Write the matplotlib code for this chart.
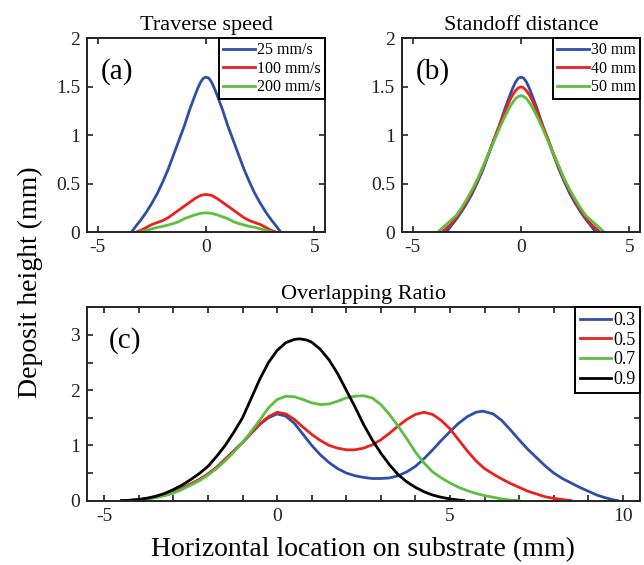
import numpy as np
import matplotlib.pyplot as plt
from matplotlib.ticker import MultipleLocator

plt.rcParams["font.family"] = ["Liberation Serif", "DejaVu Serif"]
plt.rcParams["axes.unicode_minus"] = False

BLUE = "#2f4ea6"
RED = "#e8221f"
GREEN = "#5cbf3f"
BLACK = "#000000"

# (a) traverse speed
x_25 = [-3.45, -3.25, -3.0, -2.75, -2.5, -2.25, -2.0, -1.75, -1.5, -1.25, -1.0, -0.75, -0.5, -0.375, -0.25, -0.125, 0.0,
        0.125, 0.25, 0.375, 0.5, 0.75, 1.0, 1.25, 1.5, 1.75, 2.0, 2.25, 2.5, 2.75, 3.0, 3.25, 3.45]
y_25 = [0.0, 0.06, 0.13, 0.21, 0.3, 0.4, 0.52, 0.65, 0.8, 0.95, 1.1, 1.27, 1.42, 1.49, 1.55, 1.59, 1.6,
        1.59, 1.55, 1.49, 1.42, 1.27, 1.1, 0.95, 0.8, 0.65, 0.52, 0.4, 0.3, 0.21, 0.13, 0.06, 0.0]
x_100 = [-3.25, -3.0, -2.75, -2.5, -2.25, -2.0, -1.75, -1.5, -1.25, -1.0, -0.75, -0.5, -0.25, 0.0,
         0.25, 0.5, 0.75, 1.0, 1.25, 1.5, 1.75, 2.0, 2.25, 2.5, 2.75, 3.0, 3.25]
y_100 = [0.0, 0.02, 0.05, 0.08, 0.1, 0.12, 0.15, 0.19, 0.23, 0.27, 0.31, 0.35, 0.38, 0.39,
         0.38, 0.35, 0.31, 0.27, 0.23, 0.19, 0.15, 0.12, 0.1, 0.08, 0.05, 0.02, 0.0]
x_200 = [-3.1, -2.75, -2.5, -2.25, -2.0, -1.75, -1.5, -1.25, -1.0, -0.75, -0.5, -0.25, 0.0,
         0.25, 0.5, 0.75, 1.0, 1.25, 1.5, 1.75, 2.0, 2.25, 2.5, 2.75, 3.1]
y_200 = [0.0, 0.02, 0.035, 0.05, 0.06, 0.075, 0.09, 0.11, 0.14, 0.16, 0.18, 0.195, 0.2,
         0.195, 0.18, 0.16, 0.14, 0.11, 0.09, 0.075, 0.06, 0.05, 0.035, 0.02, 0.0]

# (b) standoff distance
x_30 = x_25
y_30 = y_25
x_40 = [-3.65, -3.5, -3.25, -3.0, -2.75, -2.5, -2.25, -2.0, -1.75, -1.5, -1.25, -1.0, -0.75, -0.5, -0.375, -0.25, -0.125, 0.0,
        0.125, 0.25, 0.375, 0.5, 0.75, 1.0, 1.25, 1.5, 1.75, 2.0, 2.25, 2.5, 2.75, 3.0, 3.25, 3.5, 3.65]
y_40 = [0.0, 0.03, 0.08, 0.15, 0.23, 0.32, 0.42, 0.54, 0.67, 0.81, 0.96, 1.1, 1.24, 1.37, 1.42, 1.46, 1.49, 1.5,
        1.49, 1.46, 1.42, 1.37, 1.24, 1.1, 0.96, 0.81, 0.67, 0.54, 0.42, 0.32, 0.23, 0.15, 0.08, 0.03, 0.0]
x_50 = [-3.85, -3.6, -3.3, -3.0, -2.75, -2.5, -2.25, -2.0, -1.75, -1.5, -1.25, -1.0, -0.75, -0.5, -0.375, -0.25, -0.125, 0.0,
        0.125, 0.25, 0.375, 0.5, 0.75, 1.0, 1.25, 1.5, 1.75, 2.0, 2.25, 2.5, 2.75, 3.0, 3.3, 3.6, 3.85]
y_50 = [0.0, 0.05, 0.11, 0.17, 0.25, 0.34, 0.44, 0.55, 0.68, 0.81, 0.94, 1.07, 1.19, 1.3, 1.34, 1.38, 1.4, 1.41,
        1.4, 1.38, 1.34, 1.3, 1.19, 1.07, 0.94, 0.81, 0.68, 0.55, 0.44, 0.34, 0.25, 0.17, 0.11, 0.05, 0.0]

# (c) overlapping ratio
x_c3 = [-4.5, -4.25, -4.0, -3.75, -3.5, -3.25, -3.0, -2.75, -2.5, -2.25, -2.0, -1.75, -1.5, -1.25, -1.0,
        -0.75, -0.5, -0.25, 0.0, 0.25, 0.5, 0.75, 1.0, 1.25, 1.5, 1.75, 2.0, 2.25, 2.5, 2.75, 3.0, 3.25,
        3.5, 3.75, 4.0, 4.25, 4.5, 4.75, 5.0, 5.25, 5.5, 5.75, 5.95, 6.25, 6.5, 6.75, 7.0, 7.25, 7.5, 7.75,
        8.0, 8.25, 8.5, 8.75, 9.0, 9.25, 9.5, 9.75, 9.85]
y_c3 = [0.0, 0.005, 0.015, 0.035, 0.065, 0.1, 0.15, 0.22, 0.3, 0.38, 0.48, 0.6, 0.75, 0.9, 1.05,
        1.22, 1.38, 1.5, 1.57, 1.53, 1.4, 1.2, 1.0, 0.83, 0.69, 0.58, 0.5, 0.45, 0.42, 0.4, 0.4, 0.41,
        0.45, 0.52, 0.62, 0.76, 0.92, 1.09, 1.25, 1.4, 1.52, 1.6, 1.62, 1.57, 1.45, 1.28, 1.1, 0.93, 0.78, 0.63,
        0.5, 0.4, 0.32, 0.24, 0.17, 0.1, 0.05, 0.01, 0.0]
x_c5 = [-4.5, -4.25, -4.0, -3.75, -3.5, -3.25, -3.0, -2.75, -2.5, -2.25, -2.0, -1.75, -1.5, -1.25, -1.0,
        -0.75, -0.5, -0.25, 0.0, 0.25, 0.5, 0.75, 1.0, 1.25, 1.5, 1.75, 2.0, 2.25, 2.5, 2.75, 3.0, 3.25,
        3.5, 3.75, 4.0, 4.25, 4.5, 4.75, 5.0, 5.25, 5.5, 5.75, 6.0, 6.25, 6.5, 6.75, 7.0, 7.25, 7.5, 7.75,
        8.0, 8.25, 8.5]
y_c5 = [0.0, 0.005, 0.015, 0.035, 0.065, 0.1, 0.15, 0.22, 0.3, 0.38, 0.48, 0.6, 0.75, 0.9, 1.05,
        1.22, 1.39, 1.52, 1.6, 1.57, 1.47, 1.33, 1.2, 1.09, 1.0, 0.95, 0.92, 0.92, 0.95, 1.01, 1.1, 1.22,
        1.35, 1.47, 1.56, 1.6, 1.56, 1.45, 1.3, 1.1, 0.9, 0.72, 0.58, 0.48, 0.39, 0.31, 0.24, 0.17, 0.12, 0.07,
        0.04, 0.02, 0.0]
x_c7 = [-4.5, -4.25, -4.0, -3.75, -3.5, -3.25, -3.0, -2.75, -2.5, -2.25, -2.0, -1.75, -1.5, -1.25, -1.0,
        -0.75, -0.5, -0.25, 0.0, 0.25, 0.5, 0.75, 1.0, 1.25, 1.5, 1.75, 2.0, 2.25, 2.5, 2.75, 3.0, 3.25,
        3.5, 3.75, 4.0, 4.25, 4.5, 4.75, 5.0, 5.25, 5.5, 5.75, 6.0, 6.25, 6.5, 6.75, 7.0]
y_c7 = [0.0, 0.005, 0.012, 0.03, 0.055, 0.09, 0.135, 0.2, 0.28, 0.36, 0.46, 0.58, 0.72, 0.88, 1.05,
        1.25, 1.46, 1.68, 1.83, 1.89, 1.88, 1.83, 1.77, 1.74, 1.75, 1.8, 1.86, 1.89, 1.9, 1.86, 1.74, 1.56,
        1.35, 1.12, 0.88, 0.68, 0.52, 0.41, 0.32, 0.24, 0.18, 0.13, 0.09, 0.06, 0.03, 0.01, 0.0]
x_c9 = [-4.5, -4.25, -4.0, -3.75, -3.5, -3.25, -3.0, -2.75, -2.5, -2.25, -2.0, -1.75, -1.5, -1.25, -1.0,
        -0.75, -0.5, -0.25, 0.0, 0.25, 0.5, 0.65, 0.85, 1.0, 1.25, 1.5, 1.75, 2.0, 2.25, 2.5, 2.75, 3.0,
        3.25, 3.5, 3.75, 4.0, 4.25, 4.5, 4.75, 5.0, 5.25, 5.4]
y_c9 = [0.0, 0.005, 0.02, 0.045, 0.08, 0.13, 0.2, 0.28, 0.38, 0.49, 0.62, 0.8, 1.0, 1.24, 1.5,
        1.85, 2.2, 2.5, 2.72, 2.86, 2.92, 2.93, 2.91, 2.87, 2.74, 2.55, 2.3, 2.0, 1.7, 1.38, 1.1, 0.86,
        0.65, 0.47, 0.34, 0.24, 0.16, 0.1, 0.06, 0.03, 0.01, 0.0]


def style_axes(ax):
    for s in ax.spines.values():
        s.set_linewidth(1.4)
        s.set_color("#222222")
    ax.tick_params(which="both", direction="in", top=True, right=True,
                   width=1.2, labelsize=14, pad=5, colors="#222222", labelcolor="#222222")
    ax.tick_params(which="major", length=4)
    ax.tick_params(which="minor", length=4)


def add_legend(ax, size, hl):
    leg = ax.legend(loc="upper right", borderaxespad=0, fontsize=size, fancybox=False,
                    framealpha=1, edgecolor="black", handlelength=hl, handletextpad=0.15,
                    borderpad=0.25, labelspacing=0.15)
    leg.get_frame().set_linewidth(1.4)


fig = plt.figure(figsize=(6.44, 5.65), dpi=100)
ax_a = fig.add_axes([0.135, 0.589, 0.370, 0.343])
ax_b = fig.add_axes([0.624, 0.589, 0.370, 0.343])
ax_c = fig.add_axes([0.135, 0.114, 0.859, 0.342])

lw = 2.0
ax_a.plot(x_25, y_25, color=BLUE, lw=lw, label="25 mm/s")
ax_a.plot(x_100, y_100, color=RED, lw=lw, label="100 mm/s")
ax_a.plot(x_200, y_200, color=GREEN, lw=lw, label="200 mm/s")

ax_b.plot(x_30, y_30, color=BLUE, lw=lw, label="30 mm")
ax_b.plot(x_40, y_40, color=RED, lw=lw, label="40 mm")
ax_b.plot(x_50, y_50, color=GREEN, lw=lw, label="50 mm")

ax_c.plot(x_c3, y_c3, color=BLUE, lw=lw, label="0.3")
ax_c.plot(x_c5, y_c5, color=RED, lw=lw, label="0.5")
ax_c.plot(x_c7, y_c7, color=GREEN, lw=lw, label="0.7")
ax_c.plot(x_c9, y_c9, color=BLACK, lw=lw, label="0.9")

for ax, tag, title in [(ax_a, "(a)", "Traverse speed"), (ax_b, "(b)", "Standoff distance")]:
    ax.set_xlim(-5.5, 5.5)
    ax.set_ylim(0, 2)
    ax.set_xticks([-5, 0, 5])
    ax.set_yticks([0, 0.5, 1, 1.5, 2])
    ax.set_yticklabels(["0", "0.5", "1", "1.5", "2"])
    ax.set_title(title, fontsize=16, pad=6)
    ax.text(0.06, 0.83, tag, transform=ax.transAxes, fontsize=21, va="center")
    style_axes(ax)
    add_legend(ax, 11.5, 2.0)

ax_c.set_xlim(-5.5, 10.5)
ax_c.set_ylim(0, 3.5)
ax_c.set_xticks([-5, 0, 5, 10])
ax_c.set_yticks([0, 1, 2, 3])
ax_c.xaxis.set_minor_locator(MultipleLocator(1))
ax_c.yaxis.set_minor_locator(MultipleLocator(0.5))
ax_c.set_title("Overlapping Ratio", fontsize=16, pad=6)
ax_c.text(0.04, 0.83, "(c)", transform=ax_c.transAxes, fontsize=21, va="center")
style_axes(ax_c)
add_legend(ax_c, 13, 1.7)

fig.text(0.047, 0.5, "Deposit height (mm)", rotation=90, fontsize=20, ha="center", va="center")
fig.text(0.564, 0.027, "Horizontal location on substrate (mm)", fontsize=20, ha="center", va="center")

fig.savefig("out.png", dpi=100)
